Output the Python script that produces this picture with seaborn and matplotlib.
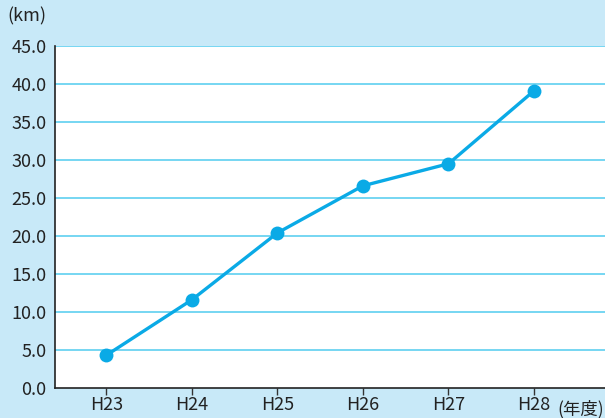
import matplotlib
matplotlib.use("Agg")
import matplotlib.pyplot as plt
import seaborn as sns
import pandas as pd

years = ["H23", "H24", "H25", "H26", "H27", "H28"]
length_km = [4.3, 11.6, 20.4, 26.6, 29.5, 39.1]
y_ticks = [0, 5, 10, 15, 20, 25, 30, 35, 40, 45]

bg = "#c8e9f8"
line_col = "#0aaae6"
grid_col = "#5fd0f0"

sns.set_style("white")
plt.rcParams["font.family"] = ["Noto Sans CJK JP", "DejaVu Sans"]

df = pd.DataFrame({"pos": range(len(years)), "km": length_km})

fig = plt.figure(figsize=(6.05, 4.18), dpi=100, facecolor=bg)
ax = fig.add_axes([0.091, 0.072, 0.909, 0.818])
ax.set_facecolor("white")

for v in y_ticks[1:]:
    ax.axhline(v, color=grid_col, lw=1.2, zorder=1)

sns.lineplot(data=df, x="pos", y="km", ax=ax, color=line_col, lw=2.4,
             marker="o", markersize=10, markeredgewidth=0, zorder=3)

ax.set_xlim(-0.6, 5.83)
ax.set_ylim(0, 45)
ax.set_xticks(range(len(years)))
ax.set_xticklabels(years)
ax.set_yticks(y_ticks)
ax.set_yticklabels([f"{v:.1f}" for v in y_ticks])
ax.tick_params(axis="x", length=5, width=1, color="#333333", labelsize=13,
               labelcolor="#222222", pad=1, bottom=True)
ax.tick_params(axis="y", length=0, labelsize=13, labelcolor="#222222", pad=6)
ax.set_xlabel("")
ax.set_ylabel("")

for s in ["top", "right"]:
    ax.spines[s].set_visible(False)
for s in ["left", "bottom"]:
    ax.spines[s].set_color("#222222")
    ax.spines[s].set_linewidth(1.2)

fig.text(0.012, 0.962, "(km)", fontsize=13, color="#222222", va="center")
fig.text(0.998, 0.022, "(年度)", fontsize=12.5, color="#222222", va="center", ha="right")

fig.savefig("out.png", dpi=100, facecolor=bg)
